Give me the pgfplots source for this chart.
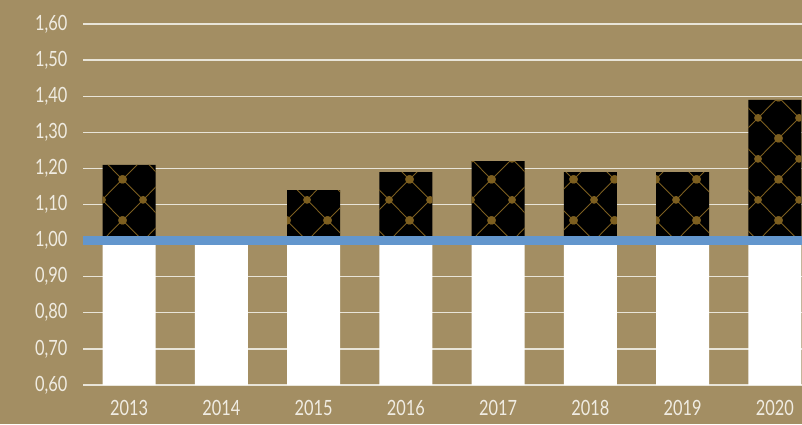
\documentclass[border=0pt]{standalone}
\usepackage{pgfplots}
\pgfplotsset{compat=1.18}
\usepackage{fontspec}
\setmainfont{Lato}[FakeStretch=0.78]
\usetikzlibrary{patterns}
\definecolor{bgc}{RGB}{163,142,99}
\definecolor{bluec}{RGB}{99,150,205}
\definecolor{goldc}{RGB}{125,95,32}
\definecolor{gridc}{RGB}{232,228,216}
\definecolor{txtc}{RGB}{240,236,226}
\pgfdeclarepatternformonly{goldlattice}{\pgfqpoint{0pt}{0pt}}{\pgfqpoint{41pt}{41pt}}{\pgfqpoint{41pt}{41pt}}{%
  \pgfsetlinewidth{0.9pt}%
  \pgfpathmoveto{\pgfqpoint{0pt}{0pt}}\pgfpathlineto{\pgfqpoint{41pt}{41pt}}%
  \pgfpathmoveto{\pgfqpoint{0pt}{41pt}}\pgfpathlineto{\pgfqpoint{41pt}{0pt}}%
  \pgfusepath{stroke}%
  \pgfpathcircle{\pgfqpoint{0pt}{0pt}}{4pt}%
  \pgfpathcircle{\pgfqpoint{41pt}{0pt}}{4pt}%
  \pgfpathcircle{\pgfqpoint{0pt}{41pt}}{4pt}%
  \pgfpathcircle{\pgfqpoint{41pt}{41pt}}{4pt}%
  \pgfpathcircle{\pgfqpoint{20.5pt}{20.5pt}}{4pt}%
  \pgfusepath{fill}%
}
\begin{document}
\begin{tikzpicture}
\fill[bgc] (0,0) rectangle (802pt,424pt);
\begin{axis}[
  at={(83pt,39pt)}, anchor=south west,
  scale only axis, width=719pt, height=361pt,
  xmin=-0.5, xmax=7.294, ymin=0.6, ymax=1.6,
  ybar stacked, bar width=0.575,
  xtick={0,1,2,3,4,5,6,7},
  xticklabels={2013,2014,2015,2016,2017,2018,2019,2020},
  ytick={0.6,0.7,0.8,0.9,1.0,1.1,1.2,1.3,1.4,1.5,1.6},
  /pgf/number format/fixed, /pgf/number format/fixed zerofill,
  /pgf/number format/precision=2, /pgf/number format/use comma,
  /pgf/number format/assume math mode=true,
  axis line style={draw=none},
  major tick length=0pt,
  ymajorgrids, grid style={gridc, line width=1.2pt},
  tick label style={font=\fontsize{21}{23}\selectfont, text=txtc},
  yticklabel style={xshift=-12pt},
  xticklabel style={yshift=-12pt},
]
\addplot[fill=white, draw=none] coordinates {(0,1) (1,1) (2,1) (3,1) (4,1) (5,1) (6,1) (7,1)};
\addplot[fill=black, draw=none, postaction={pattern=goldlattice, pattern color=goldc}] coordinates {(0,0.21) (1,0) (2,0.14) (3,0.19) (4,0.22) (5,0.19) (6,0.19) (7,0.39)};
\coordinate (bl) at (axis cs:-0.5,1);
\coordinate (br) at (axis cs:7.294,1);
\end{axis}
\draw[overlay, bluec, line width=9pt] (bl) -- (br);
\pgfresetboundingbox
\path[use as bounding box] (0,0) rectangle (802pt,424pt);
\end{tikzpicture}
\end{document}
